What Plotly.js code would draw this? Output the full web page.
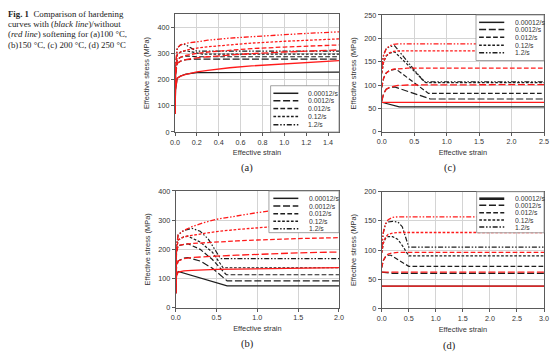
<!DOCTYPE html>
<html>
<head>
<meta charset="utf-8">
<script src="https://cdn.plot.ly/plotly-3.0.1.min.js"></script>
<style>html,body{margin:0;padding:0;background:#fff;}#chart{width:557px;height:357px;}</style>
</head>
<body>
<div id="chart"></div>
<script>
// ---------- data ----------
var rates = ['0.00012/s', '0.0012/s', '0.012/s', '0.12/s', '1.2/s'];
var panelLabels = ['(a)', '(c)', '(b)', '(d)'];
var captionLines = ['<b>Fig. 1</b>  Comparison of hardening',
  'curves with (<i>black line</i>)/without',
  '(<i>red line</i>) softening for (a)100 °C,',
  '(b)150 °C, (c) 200 °C, (d) 250 °C'];
var xTitle = 'Effective strain';
var yTitle = 'Effective stress (MPa)';

// (a) 100 °C
var aRedX = [0, 0.005, 0.02, 0.05, 0.1, 0.2, 0.3, 0.5, 0.7, 1.0, 1.25, 1.5];
var aRedY = [
  [70, 160, 205, 213, 220, 229, 235, 245, 252, 260, 266, 272],
  [70, 220, 262, 270, 276, 283, 287, 294, 299, 305, 309, 313],
  [70, 230, 275, 285, 292, 300, 305, 312, 318, 324, 328, 332],
  [70, 240, 295, 305, 312, 320, 325, 333, 339, 346, 351, 355],
  [70, 250, 320, 332, 338, 345, 350, 358, 364, 371, 377, 382]
];
var aBlackX = [
  [0, 0.005, 0.02, 0.05, 0.1, 0.2, 1.5],
  [0, 0.005, 0.02, 0.05, 0.1, 0.2, 1.5],
  [0, 0.005, 0.02, 0.05, 0.1, 0.2, 1.5],
  [0, 0.005, 0.02, 0.05, 0.1, 0.25, 1.5],
  [0, 0.005, 0.02, 0.05, 0.08, 0.2, 1.5]
];
var aBlackY = [
  [70, 160, 205, 213, 221, 226, 228],
  [70, 220, 262, 270, 276, 278, 278],
  [70, 230, 275, 285, 290, 287, 287],
  [70, 240, 295, 305, 310, 297, 297],
  [70, 250, 320, 332, 336, 308, 308]
];

// (b) 150 °C
var bRedX = [0, 0.01, 0.03, 0.1, 0.2, 0.35, 0.5, 0.75, 1.0, 1.25, 1.5, 2.0];
var bRedY = [
  [50, 110, 122, 126, 128, 130, 131, 132, 133, 134, 135, 137],
  [50, 140, 160, 168, 172, 175, 177, 180, 183, 186, 188, 191],
  [50, 190, 213, 217, 220, 223, 226, 229, 232, 235, 237, 240],
  [50, 200, 232, 243, 248, 255, 261, 268, 274, 280, 285, 293],
  [50, 210, 250, 265, 278, 292, 303, 315, 326, 335, 342, 355]
];
var bBlackX = [
  [0, 0.01, 0.03, 0.63, 2.0],
  [0, 0.01, 0.03, 0.1, 0.15, 0.3, 0.45, 0.63, 2.0],
  [0, 0.01, 0.03, 0.1, 0.15, 0.3, 0.45, 0.62, 2.0],
  [0, 0.01, 0.03, 0.1, 0.15, 0.3, 0.45, 0.58, 2.0],
  [0, 0.01, 0.03, 0.1, 0.2, 0.3, 0.4, 0.48, 0.55, 2.0]
];
var bBlackY = [
  [50, 110, 124, 75, 75],
  [50, 140, 160, 170, 172, 160, 135, 92, 92],
  [50, 190, 213, 218, 219, 200, 165, 113, 113],
  [50, 200, 232, 243, 245, 225, 190, 137, 137],
  [50, 210, 250, 265, 272, 262, 235, 200, 168, 168]
];

// (c) 200 °C
var cRedX = [0, 0.03, 0.07, 0.12, 0.18, 0.25, 0.4, 2.5];
var cRedY = [
  [63, 63, 63, 63, 63, 63, 63, 63],
  [65, 82, 91, 95, 97, 99, 100, 101],
  [95, 115, 126, 131, 134, 135, 136, 136],
  [125, 150, 163, 169, 172, 173, 173, 173],
  [140, 165, 178, 184, 187, 188, 188, 188]
];
var cBlackX = [
  [0, 0.27, 2.5],
  [0, 0.03, 0.07, 0.12, 0.2, 0.75, 2.5],
  [0, 0.03, 0.07, 0.12, 0.22, 0.72, 2.5],
  [0, 0.03, 0.07, 0.12, 0.2, 0.68, 2.5],
  [0, 0.03, 0.07, 0.12, 0.2, 0.65, 2.5]
];
var cBlackY = [
  [63, 53, 53],
  [65, 82, 91, 94, 96, 70, 70],
  [95, 115, 126, 131, 134, 82, 82],
  [125, 150, 162, 168, 171, 105, 105],
  [140, 165, 178, 182, 184, 107, 107]
];

// (d) 250 °C
var dRedX = [0, 0.03, 0.07, 0.12, 0.2, 0.3, 3.0];
var dRedY = [
  [38, 38, 38, 38, 38, 38, 38],
  [62, 62, 62, 62, 62, 62, 62],
  [70, 82, 89, 93, 95, 96, 96],
  [95, 112, 122, 127, 129, 130, 130],
  [105, 130, 145, 152, 156, 157, 157]
];
var dBlackX = [
  [0, 3.0],
  [0, 0.2, 3.0],
  [0, 0.03, 0.07, 0.12, 0.17, 0.3, 0.5, 3.0],
  [0, 0.03, 0.07, 0.12, 0.2, 0.3, 0.4, 0.5, 3.0],
  [0, 0.03, 0.07, 0.12, 0.2, 0.3, 0.38, 0.45, 0.5, 3.0]
];
var dBlackY = [
  [38, 38],
  [62, 60, 60],
  [70, 82, 88, 91, 91, 83, 72, 72],
  [95, 112, 120, 123, 123, 118, 105, 90, 90],
  [105, 130, 145, 148, 149, 148, 140, 118, 105, 105]
];

// ---------- styling ----------
var dashes = ['solid', '7px,2.7px', '4.7px,2.3px', '2.7px,1.7px', '5px,1.8px,1.5px,1.8px,1.5px,1.8px'];
var RED = '#ff1a1a', BLACK = '#1e1e1e';
var SANS = 'Arial, "Liberation Sans", sans-serif';
var SERIF = '"Times New Roman", "Liberation Serif", serif';

var panels = [
  {ax: '', rx: aRedX, ry: aRedY, bx: aBlackX, by: aBlackY},
  {ax: '2', rx: cRedX, ry: cRedY, bx: cBlackX, by: cBlackY},
  {ax: '3', rx: bRedX, ry: bRedY, bx: bBlackX, by: bBlackY},
  {ax: '4', rx: dRedX, ry: dRedY, bx: dBlackX, by: dBlackY}
];

var traces = [];
panels.forEach(function (p) {
  for (var i = 0; i < rates.length; i++) {
    traces.push({x: p.bx[i], y: p.by[i], xaxis: 'x' + p.ax, yaxis: 'y' + p.ax,
      type: 'scatter', mode: 'lines', name: rates[i], showlegend: false,
      line: {color: BLACK, width: 1.2, dash: dashes[i]}});
  }
  for (var j = 0; j < rates.length; j++) {
    traces.push({x: p.rx, y: p.ry[j], xaxis: 'x' + p.ax, yaxis: 'y' + p.ax,
      type: 'scatter', mode: 'lines', name: rates[j] + ' (no softening)', showlegend: false,
      line: {color: RED, width: 1.3, dash: dashes[j]}});
  }
});

function xa(domain, range, dtick, anchor) {
  return {domain: domain, range: range, dtick: dtick, tick0: 0, anchor: anchor,
    tickformat: '.1f', showgrid: true, gridcolor: '#d4d4d4', gridwidth: 1,
    zeroline: false, showline: true, linecolor: '#5a5a5a', linewidth: 1, mirror: true,
    ticks: 'outside', ticklen: 3, tickcolor: '#5a5a5a',
    tickfont: {family: SANS, size: 7.2, color: '#333'},
    title: {text: xTitle, font: {family: SANS, size: 7.4, color: '#333'}, standoff: 4}};
}
function ya(domain, range, dtick, anchor) {
  return {domain: domain, range: range, dtick: dtick, tick0: 0, anchor: anchor,
    showgrid: true, gridcolor: '#d4d4d4', gridwidth: 1,
    zeroline: false, showline: true, linecolor: '#5a5a5a', linewidth: 1, mirror: true,
    ticks: 'outside', ticklen: 3, tickcolor: '#5a5a5a',
    tickfont: {family: SANS, size: 7.2, color: '#333'},
    title: {text: yTitle, font: {family: SANS, size: 7.4, color: '#333'}, standoff: 6}};
}

var layout = {
  width: 557, height: 357, margin: {l: 0, r: 0, t: 0, b: 0},
  paper_bgcolor: '#fff', plot_bgcolor: '#fff', showlegend: false,
  xaxis: xa([0.3142, 0.6086], [0, 1.5], 0.2, 'y'),
  yaxis: ya([0.6303, 0.9608], [0, 450], 100, 'x'),
  xaxis2: xa([0.6853, 0.9767], [0, 2.5], 0.5, 'y2'),
  yaxis2: ya([0.6311, 0.958], [0, 250], 50, 'x2'),
  xaxis3: xa([0.3154, 0.6086], [0, 2.0], 0.5, 'y3'),
  yaxis3: ya([0.1381, 0.465], [0, 400], 100, 'x3'),
  xaxis4: xa([0.6853, 0.9767], [0, 3.0], 0.5, 'y4'),
  yaxis4: ya([0.1364, 0.463], [0, 200], 50, 'x4'),
  shapes: [], annotations: []
};

// legends drawn as boxes inside each panel
var legendPos = [
  {ax: '', box: [0.583, 1.0, 0.0, 0.392], rows: [0.328, 0.265, 0.199, 0.132, 0.062], lx: [0.60, 0.752], tx: 0.805},
  {ax: '2', box: [0.581, 1.0, 0.61, 1.0], rows: [0.937, 0.875, 0.809, 0.741, 0.677], lx: [0.60, 0.755], tx: 0.813},
  {ax: '3', box: [0.571, 1.0, 0.643, 1.0], rows: [0.937, 0.871, 0.805, 0.740, 0.677], lx: [0.598, 0.751], tx: 0.808},
  {ax: '4', box: [0.585, 1.0, 0.648, 1.0], rows: [0.94, 0.883, 0.82, 0.757, 0.697], lx: [0.601, 0.755], tx: 0.813}
];
legendPos.forEach(function (L, k) {
  var xr = 'x' + L.ax + ' domain', yr = 'y' + L.ax + ' domain';
  layout.shapes.push({type: 'rect', xref: xr, yref: yr, x0: L.box[0], x1: L.box[1], y0: L.box[2], y1: L.box[3],
    fillcolor: '#fff', line: {color: '#8c8c8c', width: 0.8}, layer: 'above'});
  for (var i = 0; i < rates.length; i++) {
    var w = (k === 3 && i === 0) ? 2.6 : 1.5;
    layout.shapes.push({type: 'line', xref: xr, yref: yr, x0: L.lx[0], x1: L.lx[1], y0: L.rows[i], y1: L.rows[i],
      line: {color: BLACK, width: w, dash: dashes[i]}, layer: 'above'});
    layout.annotations.push({xref: xr, yref: yr, x: L.tx, y: L.rows[i], text: rates[i], showarrow: false,
      xanchor: 'left', yanchor: 'middle', font: {family: SANS, size: 6.8, color: '#333'},
      height: 7, borderpad: 0});
  }
});

// panel labels
var labelPos = [[246.7, 168], [450, 168], [247, 344], [449, 345.5]];
panelLabels.forEach(function (t, k) {
  layout.annotations.push({xref: 'paper', yref: 'paper', x: labelPos[k][0] / 557, y: 1 - labelPos[k][1] / 357,
    text: t, showarrow: false, xanchor: 'center', yanchor: 'middle', font: {family: SERIF, size: 10.5, color: '#222'}});
});

// caption
var capY = [14.5, 24.5, 34.5, 44.5];
captionLines.forEach(function (t, k) {
  layout.annotations.push({xref: 'paper', yref: 'paper', x: 7 / 557, y: 1 - capY[k] / 357,
    text: t, showarrow: false, xanchor: 'left', yanchor: 'middle',
    borderpad: 0, font: {family: SERIF, size: 8.8, color: '#222'}});
});

Plotly.newPlot('chart', traces, layout, {displayModeBar: false, staticPlot: true});
</script>
</body>
</html>
